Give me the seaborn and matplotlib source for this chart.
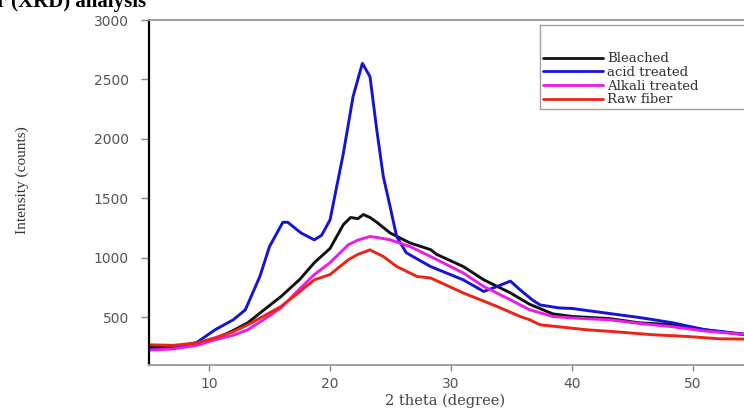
import pandas as pd
import seaborn as sns
import matplotlib.pyplot as plt

bleached_x = [5, 7, 9, 10.5, 12, 13.2, 14.5, 15.95, 17.5, 18.7, 20, 21.1, 21.7, 22.3, 22.75, 23.3,
              23.86, 24.96, 26.6, 28.3, 28.8, 31, 32.7, 34.9, 36.5, 38.4, 40, 43.1, 45.5, 48.1, 51, 54.2]
bleached_y = [250, 255, 280, 320, 390, 455, 560, 676, 820, 960, 1080, 1280, 1340, 1330, 1365, 1340,
              1300, 1210, 1126, 1070, 1030, 928, 816, 706, 610, 530, 508, 490, 455, 440, 396, 355]

acid_x = [5, 7, 9, 10.5, 12, 13, 14.2, 15, 16.1, 16.5, 17.6, 18.7, 19.3, 20, 21.1, 21.9, 22.67, 23.3,
          23.86, 24.4, 24.96, 25.5, 26.3, 28.3, 31, 32.7, 33.8, 34.9, 35.7, 36.7, 37.35, 38.9, 40,
          42.7, 45.5, 48.3, 51, 54.2]
acid_y = [230, 245, 290, 396, 480, 564, 844, 1096, 1300, 1300, 1210, 1152, 1190, 1320, 1880, 2356, 2636, 2524,
          2076, 1684, 1432, 1180, 1043, 928, 816, 718, 760, 805, 732, 648, 605, 580, 575,
          538, 500, 455, 396, 360]

alkali_x = [5, 7, 9, 10.5, 12, 13.2, 14.5, 15.95, 17.3, 18.7, 20, 21.5, 22.3, 23.3, 24.0, 24.96,
            26.6, 28.3, 31, 32.7, 34.9, 36.5, 38.4, 40, 43.1, 45.5, 48.1, 51, 54.2]
alkali_y = [225, 235, 265, 312, 350, 396, 480, 580, 720, 860, 960, 1110, 1150, 1180, 1170, 1152,
            1096, 1012, 874, 760, 648, 564, 508, 495, 480, 450, 424, 385, 358]

raw_x = [5, 7, 9, 10.5, 12, 13.2, 14.5, 15.95, 17.3, 18.7, 20, 21.5, 22.3, 23.3, 24.4, 25.5, 27.2,
         28.3, 31, 33.8, 35.7, 36.5, 37.35, 39, 41.2, 43.5, 46.7, 49.5, 52.2, 54.2]
raw_y = [270, 265, 285, 329, 380, 438, 510, 592, 700, 816, 860, 984, 1030, 1068, 1012, 928, 844,
         832, 706, 592, 508, 480, 438, 420, 396, 380, 354, 340, 320, 318]

labels = ["Bleached", "acid treated", "Alkali treated", "Raw fiber"]
colors = ["#111111", "#1414d2", "#e61ee6", "#ec2418"]

frames = []
for lab, xs, ys in zip(labels, [bleached_x, acid_x, alkali_x, raw_x],
                       [bleached_y, acid_y, alkali_y, raw_y]):
    frames.append(pd.DataFrame({"two_theta": xs, "counts": ys, "sample": lab}))
df = pd.concat(frames, ignore_index=True)

sns.set_style("white")
fig = plt.figure(figsize=(7.44, 4.17), dpi=100)
ax = fig.add_axes([148.5 / 744, 1 - 365 / 417, 1 - 148.5 / 744, 345 / 417])

sns.lineplot(data=df, x="two_theta", y="counts", hue="sample", hue_order=labels,
             palette=colors, sort=False, estimator=None, lw=2.1, ax=ax)

ax.set_xlim(5, 54.2)
ax.set_ylim(100, 3000)
ax.set_xticks([10, 20, 30, 40, 50])
ax.set_yticks([500, 1000, 1500, 2000, 2500, 3000])

for s in ["top", "bottom"]:
    ax.spines[s].set_color("#a0a0a0")
    ax.spines[s].set_linewidth(1.4)
ax.spines["left"].set_color("black")
ax.spines["left"].set_linewidth(1.6)
ax.spines["right"].set_visible(False)

ax.tick_params(axis="y", direction="out", length=6, width=1, color="#888888",
               pad=8, labelsize=10, labelcolor="#555555", left=True)
ax.tick_params(axis="x", direction="out", length=4, width=1, color="#888888",
               pad=5, labelsize=10, labelcolor="#555555", bottom=True)

ax.set_xlabel("")
ax.set_ylabel("")
fig.text(0.5985, 1 - 401 / 417, "2 theta (degree)", ha="center", va="center",
         fontsize=10.5, family="DejaVu Serif", color="#444444")
fig.text(22 / 744, 1 - 180 / 417, "Intensity (counts)", ha="center", va="center",
         rotation=90, fontsize=11, family="Liberation Serif", color="#333333")
fig.text(-0.004, 1 - 7 / 417, "r (XRD) analysis", ha="left", va="baseline",
         fontsize=15, fontweight="bold", family="Liberation Serif", color="black")

leg_x = (540 - 148.5) / 595.5
leg_top = (365 - 25) / 345
leg = ax.legend(loc="upper left", bbox_to_anchor=(leg_x, leg_top - 0.3, 1.02 - leg_x, 0.3),
                mode="expand", title=" ", title_fontsize=17, frameon=True, fancybox=False,
                handlelength=4.6, handletextpad=0.3, labelspacing=0.05, borderpad=0.2,
                borderaxespad=0, prop={"family": "DejaVu Serif", "size": 9.5})
leg.get_frame().set_edgecolor("#888888")
leg.get_frame().set_linewidth(1.0)
for t in leg.get_texts():
    t.set_color("#333333")
for h in leg.legend_handles:
    h.set_linewidth(2)

fig.savefig("out.png", dpi=100)
